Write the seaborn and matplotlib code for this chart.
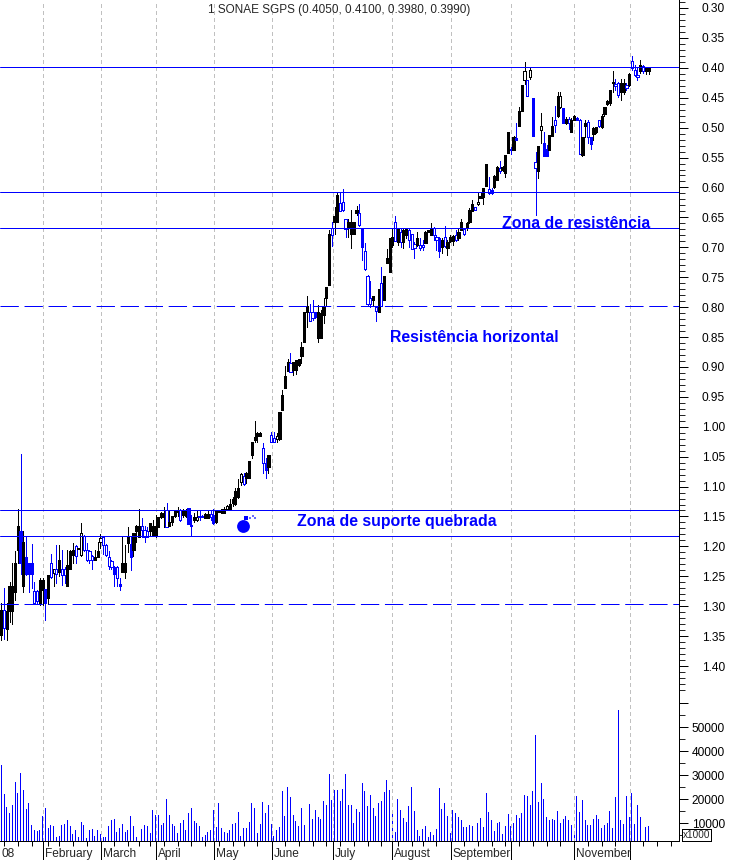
"""Daily candlestick chart for SONAE SGPS in 2008, inverted price scale, volume below."""
import pandas as pd
import seaborn as sns
import matplotlib
matplotlib.use('Agg')
import matplotlib.pyplot as plt

wick_low = [
    1.295, 1.270, 1.295, 1.260, 1.228, 1.207, 1.138, 1.045, 1.175, 1.183,
    1.228, 1.196, 1.259, 1.273, 1.253, 1.253, 1.272, 1.248, 1.213, 1.238,
    1.198, 1.198, 1.206, 1.235, 1.206, 1.206, 1.195, 1.198, 1.203, 1.161,
    1.181, 1.195, 1.206, 1.214, 1.206, 1.192, 1.179, 1.184, 1.196, 1.207,
    1.223, 1.233, 1.233, 1.253, 1.184, 1.198, 1.168, 1.184, 1.177, 1.164,
    1.138, 1.153, 1.166, 1.168, 1.161, 1.156, 1.147, 1.151, 1.142, 1.134,
    1.127, 1.139, 1.150, 1.139, 1.135, 1.138, 1.138, 1.138, 1.136, 1.147,
    1.145, 1.139, 1.139, 1.147, 1.144, 1.139, 1.139, 1.138, 1.139, 1.139,
    1.138, 1.135, 1.131, 1.120, 1.117, 1.103, 1.088, 1.078, 1.078, 1.075,
    1.057, 1.025, 0.991, 1.008, 1.008, 1.028, 1.053, 1.047, 1.008, 1.008,
    1.011, 0.975, 0.938, 0.899, 0.886, 0.877, 0.891, 0.888, 0.886, 0.858,
    0.808, 0.782, 0.794, 0.788, 0.808, 0.796, 0.805, 0.785, 0.767, 0.671,
    0.657, 0.632, 0.609, 0.609, 0.603, 0.653, 0.653, 0.638, 0.657, 0.631,
    0.628, 0.668, 0.693, 0.746, 0.757, 0.782, 0.799, 0.769, 0.733, 0.748,
    0.703, 0.685, 0.670, 0.648, 0.668, 0.670, 0.667, 0.668, 0.670, 0.677,
    0.692, 0.674, 0.685, 0.687, 0.672, 0.671, 0.660, 0.666, 0.679, 0.682,
    0.685, 0.664, 0.688, 0.679, 0.679, 0.671, 0.668, 0.652, 0.668, 0.657,
    0.635, 0.621, 0.632, 0.609, 0.610, 0.601, 0.561, 0.583, 0.601, 0.579,
    0.564, 0.555, 0.564, 0.546, 0.507, 0.532, 0.514, 0.493, 0.465, 0.429,
    0.390, 0.420, 0.401, 0.451, 0.540, 0.531, 0.476, 0.508, 0.529, 0.512,
    0.482, 0.464, 0.440, 0.440, 0.468, 0.483, 0.483, 0.484, 0.479, 0.483,
    0.486, 0.515, 0.488, 0.487, 0.515, 0.499, 0.499, 0.487, 0.477, 0.465,
    0.453, 0.437, 0.405, 0.418, 0.423, 0.419, 0.419, 0.425, 0.409, 0.381,
    0.395, 0.398, 0.387, 0.395, 0.398, 0.398,
]
wick_high = [
    1.356, 1.354, 1.357, 1.327, 1.329, 1.289, 1.228, 1.246, 1.277, 1.248,
    1.277, 1.270, 1.296, 1.296, 1.298, 1.298, 1.323, 1.296, 1.253, 1.267,
    1.262, 1.249, 1.264, 1.262, 1.267, 1.237, 1.228, 1.227, 1.204, 1.216,
    1.207, 1.224, 1.227, 1.237, 1.223, 1.218, 1.203, 1.213, 1.216, 1.237,
    1.238, 1.267, 1.267, 1.273, 1.242, 1.253, 1.209, 1.239, 1.216, 1.192,
    1.185, 1.184, 1.192, 1.185, 1.181, 1.183, 1.185, 1.167, 1.153, 1.167,
    1.167, 1.166, 1.164, 1.151, 1.150, 1.157, 1.151, 1.151, 1.163, 1.183,
    1.159, 1.157, 1.156, 1.151, 1.153, 1.153, 1.156, 1.163, 1.161, 1.142,
    1.145, 1.145, 1.139, 1.138, 1.132, 1.131, 1.119, 1.097, 1.097, 1.094,
    1.086, 1.053, 1.025, 1.025, 1.016, 1.077, 1.086, 1.077, 1.026, 1.026,
    1.025, 1.022, 0.972, 0.936, 0.906, 0.908, 0.913, 0.911, 0.899, 0.894,
    0.858, 0.833, 0.823, 0.821, 0.819, 0.858, 0.852, 0.827, 0.798, 0.763,
    0.698, 0.677, 0.657, 0.640, 0.639, 0.682, 0.682, 0.702, 0.677, 0.646,
    0.664, 0.722, 0.738, 0.796, 0.800, 0.798, 0.823, 0.808, 0.798, 0.788,
    0.727, 0.742, 0.699, 0.689, 0.696, 0.700, 0.702, 0.685, 0.699, 0.703,
    0.718, 0.698, 0.704, 0.704, 0.693, 0.674, 0.679, 0.687, 0.704, 0.717,
    0.710, 0.699, 0.713, 0.691, 0.696, 0.689, 0.687, 0.671, 0.679, 0.671,
    0.659, 0.640, 0.638, 0.629, 0.618, 0.628, 0.597, 0.611, 0.611, 0.601,
    0.587, 0.575, 0.573, 0.582, 0.543, 0.544, 0.538, 0.521, 0.497, 0.473,
    0.427, 0.447, 0.419, 0.514, 0.646, 0.585, 0.526, 0.547, 0.547, 0.538,
    0.514, 0.507, 0.483, 0.468, 0.493, 0.494, 0.503, 0.508, 0.487, 0.487,
    0.544, 0.547, 0.515, 0.526, 0.536, 0.521, 0.509, 0.499, 0.501, 0.481,
    0.462, 0.462, 0.440, 0.437, 0.449, 0.453, 0.443, 0.437, 0.430, 0.403,
    0.414, 0.421, 0.408, 0.409, 0.410, 0.410,
]
body_low = [
    1.306, 1.306, 1.308, 1.267, 1.267, 1.228, 1.166, 1.175, 1.192, 1.217,
    1.228, 1.228, 1.274, 1.274, 1.257, 1.257, 1.272, 1.248, 1.228, 1.238,
    1.238, 1.223, 1.238, 1.238, 1.231, 1.207, 1.206, 1.200, 1.203, 1.177,
    1.183, 1.206, 1.207, 1.216, 1.217, 1.207, 1.186, 1.185, 1.198, 1.217,
    1.224, 1.234, 1.234, 1.263, 1.228, 1.228, 1.183, 1.196, 1.177, 1.166,
    1.166, 1.166, 1.173, 1.175, 1.161, 1.166, 1.166, 1.151, 1.145, 1.145,
    1.139, 1.160, 1.150, 1.141, 1.139, 1.139, 1.139, 1.139, 1.136, 1.164,
    1.151, 1.151, 1.149, 1.149, 1.146, 1.146, 1.146, 1.147, 1.139, 1.139,
    1.138, 1.137, 1.132, 1.129, 1.120, 1.107, 1.103, 1.079, 1.082, 1.078,
    1.058, 1.025, 1.017, 1.011, 1.011, 1.036, 1.061, 1.047, 1.014, 1.019,
    1.016, 0.975, 0.947, 0.915, 0.891, 0.893, 0.891, 0.888, 0.887, 0.866,
    0.808, 0.798, 0.808, 0.808, 0.808, 0.808, 0.810, 0.798, 0.767, 0.677,
    0.668, 0.648, 0.613, 0.626, 0.624, 0.653, 0.657, 0.657, 0.657, 0.637,
    0.643, 0.668, 0.707, 0.748, 0.784, 0.782, 0.799, 0.769, 0.760, 0.748,
    0.718, 0.685, 0.682, 0.657, 0.670, 0.674, 0.671, 0.670, 0.671, 0.678,
    0.694, 0.685, 0.696, 0.696, 0.674, 0.671, 0.670, 0.667, 0.682, 0.685,
    0.688, 0.683, 0.691, 0.682, 0.681, 0.679, 0.674, 0.657, 0.670, 0.660,
    0.638, 0.627, 0.633, 0.624, 0.614, 0.601, 0.561, 0.603, 0.604, 0.581,
    0.565, 0.568, 0.566, 0.546, 0.508, 0.535, 0.515, 0.518, 0.472, 0.429,
    0.406, 0.420, 0.404, 0.451, 0.558, 0.531, 0.497, 0.525, 0.535, 0.512,
    0.497, 0.487, 0.447, 0.447, 0.468, 0.486, 0.486, 0.487, 0.481, 0.484,
    0.487, 0.515, 0.493, 0.490, 0.516, 0.501, 0.499, 0.488, 0.481, 0.466,
    0.455, 0.437, 0.423, 0.427, 0.426, 0.426, 0.426, 0.429, 0.410, 0.388,
    0.403, 0.412, 0.395, 0.397, 0.401, 0.399,
]
body_high = [
    1.348, 1.337, 1.338, 1.308, 1.308, 1.277, 1.206, 1.228, 1.267, 1.246,
    1.247, 1.247, 1.295, 1.292, 1.296, 1.273, 1.295, 1.287, 1.252, 1.244,
    1.246, 1.242, 1.248, 1.248, 1.267, 1.237, 1.214, 1.216, 1.204, 1.214,
    1.206, 1.223, 1.223, 1.223, 1.223, 1.217, 1.192, 1.198, 1.214, 1.233,
    1.234, 1.246, 1.253, 1.267, 1.242, 1.242, 1.195, 1.217, 1.206, 1.175,
    1.184, 1.173, 1.184, 1.184, 1.175, 1.183, 1.183, 1.167, 1.151, 1.151,
    1.167, 1.166, 1.159, 1.150, 1.142, 1.156, 1.147, 1.150, 1.163, 1.166,
    1.156, 1.156, 1.151, 1.151, 1.153, 1.153, 1.151, 1.161, 1.160, 1.142,
    1.145, 1.144, 1.138, 1.137, 1.127, 1.129, 1.117, 1.092, 1.096, 1.086,
    1.086, 1.047, 1.022, 1.015, 1.015, 1.061, 1.072, 1.067, 1.026, 1.026,
    1.021, 1.021, 0.972, 0.936, 0.906, 0.908, 0.905, 0.905, 0.897, 0.882,
    0.858, 0.808, 0.823, 0.819, 0.816, 0.852, 0.852, 0.813, 0.784, 0.763,
    0.679, 0.657, 0.657, 0.639, 0.637, 0.670, 0.667, 0.677, 0.677, 0.643,
    0.663, 0.700, 0.737, 0.794, 0.794, 0.788, 0.806, 0.808, 0.798, 0.788,
    0.727, 0.742, 0.696, 0.689, 0.692, 0.691, 0.692, 0.679, 0.688, 0.703,
    0.702, 0.696, 0.702, 0.700, 0.693, 0.674, 0.679, 0.679, 0.687, 0.707,
    0.699, 0.698, 0.702, 0.689, 0.689, 0.688, 0.685, 0.671, 0.678, 0.668,
    0.657, 0.639, 0.637, 0.628, 0.618, 0.616, 0.597, 0.609, 0.609, 0.600,
    0.587, 0.573, 0.571, 0.575, 0.543, 0.538, 0.538, 0.520, 0.497, 0.473,
    0.420, 0.447, 0.416, 0.514, 0.568, 0.572, 0.504, 0.547, 0.547, 0.538,
    0.514, 0.496, 0.481, 0.465, 0.493, 0.493, 0.493, 0.508, 0.487, 0.487,
    0.544, 0.546, 0.497, 0.515, 0.527, 0.511, 0.508, 0.497, 0.499, 0.477,
    0.460, 0.459, 0.425, 0.431, 0.445, 0.440, 0.440, 0.433, 0.429, 0.401,
    0.412, 0.416, 0.406, 0.406, 0.405, 0.405,
]
# K/k black filled/hollow, B/b blue filled/hollow
candle_style = (
    "KbKKKKKBKB" "BBbbKKBKbk" "bKbbKKKbKk" "bbbbKKkbbb" "bBbBKKKBKK" "KbbbKKKKKK"
    "bKKKKbKKBb" "KkbBKKbBKK" "KKkKKKKkbK" "KKKKKbBKbb" "kKKKKbKKKK" "KKbbBKKKKK"
    "bKKbbbKKKK" "bBbbbKbKbK" "KKKbKbKKbb" "bKbbKKKbbB" "KbKKKbKKbK" "KKbkKKKbBK"
    "KbKKKbKBKK" "kbkBbKkBBK" "KbKkBKbKKB" "bKKbBKKbKK" "KKKbbKKbKb" "bbKbKK"
)
volume_k = [
    34.2, 22.1, 16.7, 14.2, 17.5, 27.1, 22.5, 30.8, 23.7, 15.8, 18.3, 9.2, 7.1, 6.7, 7.1,
    12.9, 16.3, 7.9, 9.2, 8.7, 4.2, 4.6, 9.2, 9.6, 11.2, 8.7, 5.4, 7.1, 4.2, 10.4, 9.2, 3.7, 7.1, 7.5, 4.6, 7.1,
    5.4, 4.2, 4.2, 8.7, 11.2, 11.7, 6.3, 7.9, 9.6, 6.3, 7.1, 12.9, 8.7, 4.2, 27.9, 7.5, 9.2, 8.7, 5.8,
    15.4, 13.3, 13.3, 9.2, 10.0, 20.0, 13.3, 9.6, 8.7, 5.8, 10.0, 11.2, 7.1, 14.2, 16.3, 10.8, 10.0, 8.7, 4.2, 5.0, 6.3, 7.1,
    15.4, 8.3, 18.3, 7.9, 6.3, 5.8, 7.1, 9.6, 10.0, 14.6, 4.6, 7.9, 7.9, 10.4, 18.3, 16.3, 5.8, 9.6, 18.7, 14.2, 17.5,
    9.6, 4.6, 7.1, 8.3, 23.3, 12.9, 25.0, 20.8, 13.3, 10.8, 8.7, 16.3, 9.2, 26.7, 17.9, 11.7, 15.4, 12.5, 11.7, 19.2, 17.5, 30.4, 19.6, 23.7, 23.7, 19.2, 24.2, 30.4, 17.5, 17.5, 10.0, 15.8, 14.6, 26.7, 23.3,
    17.1, 21.7, 16.3, 12.9, 18.3, 19.2, 22.9, 27.9, 23.7, 13.7, 6.3, 20.0, 15.4, 12.1, 10.4, 17.1, 25.0, 15.0, 7.1, 4.6, 7.5, 8.7, 4.2, 6.3, 5.0, 7.5, 24.6, 15.8, 18.3, 12.9, 6.1,
    15.4, 14.2, 12.5, 11.2, 8.3, 8.3, 9.2, 8.7, 5.8, 10.0, 12.1, 8.3, 22.5, 14.6, 11.2, 6.7, 10.0, 10.4, 5.4, 8.7, 13.7, 8.7, 10.0,
    13.3, 12.1, 14.2, 21.7, 21.2, 17.5, 23.3, 46.7, 18.7, 26.7, 20.0, 12.5, 11.2, 11.7, 11.2, 15.0, 10.0, 11.7, 12.9, 11.2, 9.2, 5.0,
    21.2, 14.6, 19.6, 11.2, 9.2, 9.2, 11.7, 13.3, 11.7, 7.9, 9.2, 10.0, 15.0, 7.9, 20.8, 57.1, 11.2, 9.6, 21.2, 12.5, 22.5, 9.6, 17.5, 12.5, 9.6, 8.3, 8.7,
]
solid_levels = [0.3985, 0.6076, 0.668, 1.140, 1.183]
dashed_levels = [0.798, 1.2955]
month_ticks = [15.3, 36.1, 56.1, 77.2, 98.3, 120.4, 141.9, 163.3, 185.2, 208.1, 228.4]
month_labels = ['February', 'March', 'April', 'May', 'June', 'July', 'August', 'September', '', 'November', '']
week_ticks = [1, 6, 11, 17, 21, 26, 31, 41, 46, 50, 54, 59, 64, 69, 74, 79, 84, 88, 93, 103, 108, 113, 118,
              123, 128, 133, 138, 144, 149, 153, 158, 168, 173, 178, 183, 188, 193, 198, 203, 213, 218, 223,
              233, 238, 243]
price_major = [0.30, 0.35, 0.40, 0.45, 0.50, 0.55, 0.60, 0.65, 0.70, 0.75, 0.80, 0.85, 0.90, 0.95,
               1.00, 1.05, 1.10, 1.15, 1.20, 1.25, 1.30, 1.35, 1.40]
price_minor = [round(0.29 + 0.01 * k, 2) for k in range(116)]
volume_major = [10000, 20000, 30000, 40000, 50000, 60000]
volume_labels = ['10000', '20000', '30000', '40000', '50000', '']
volume_minor = [5000, 15000, 25000, 35000, 45000, 55000]
notes = [('Zona de resistência', 181.7, 0.661), ('Resistência horizontal', 141.3, 0.85),
         ('Zona de suporte quebrada', 107.5, 1.1576)]
title = '1 SONAE SGPS (0.4050, 0.4100, 0.3980, 0.3990)'

assert len(wick_low) == len(wick_high) == len(body_low) == len(body_high) == len(candle_style) == len(volume_k)

BLUE = '#0000ff'
GREY = '#c0c0c0'
PX = 0.72  # one pixel in points at dpi 100

sns.set_style('white')
plt.rcParams['font.family'] = ['Liberation Sans', 'DejaVu Sans']
plt.rcParams['lines.scale_dashes'] = False
plt.rcParams['lines.antialiased'] = False
plt.rcParams['patch.antialiased'] = False

fig = plt.figure(figsize=(7.29, 8.60), dpi=100)
ax_price = fig.add_axes([0, 160 / 860, 679 / 729, 700 / 860])
ax_vol = fig.add_axes([0, 19 / 860, 679 / 729, 141 / 860])

days = list(range(len(volume_k)))
df = pd.DataFrame({'day': days, 'volume': [v * 1000 for v in volume_k]})

# candles
for day, style, lo, hi, top, bottom in zip(days, candle_style, wick_low, wick_high, body_low, body_high):
    colour = 'black' if style in 'Kk' else BLUE
    ax_price.vlines(day, lo, hi, color=colour, lw=PX, zorder=3)
    face = colour if style in 'KB' else 'white'
    ax_price.bar(day, bottom - top, bottom=top, width=0.8, facecolor=face, edgecolor=colour, linewidth=PX, zorder=4)

for level in solid_levels:
    ax_price.axhline(level, color=BLUE, lw=PX, antialiased=True, zorder=5)
for level in dashed_levels:
    ax_price.axhline(level, color=BLUE, lw=PX, antialiased=True, linestyle=(0, (13.2, 4.1)), zorder=5)

# bomb mark on the support break
ax_price.scatter([87.9], [1.166], s=85, color=BLUE, linewidths=0, zorder=6)
ax_price.scatter([88.9], [1.152], s=10, marker='s', color=BLUE, linewidths=0, zorder=6)
ax_price.scatter([90.2, 91.3, 92.2], [1.152, 1.149, 1.153], s=1.5, marker='s', color='#6a6aff', linewidths=0, zorder=6)

for text, x, y in notes:
    ax_price.text(x, y, text, color=BLUE, fontsize=11.4, fontweight='bold', va='center', ha='left', zorder=7)

ax_price.set_ylim(0.3 + 692 / 598.2, 0.3 - 8 / 598.2)
ax_price.set_yticks(price_major)
ax_price.set_yticklabels(['%.2f' % p for p in price_major])
ax_price.set_yticks(price_minor, minor=True)

sns.barplot(data=df, x='day', y='volume', native_scale=True, color=BLUE, saturation=1,
            width=0.36, linewidth=0, ax=ax_vol)
for bar in ax_vol.patches:
    bar.set_antialiased(False)
ax_vol.set_xlabel('')
ax_vol.set_ylabel('')
ax_vol.set_ylim(2625, 61375)
ax_vol.set_yticks(volume_major)
ax_vol.set_yticklabels(volume_labels)
ax_vol.set_yticks(volume_minor, minor=True)

for ax in [ax_price, ax_vol]:
    ax.set_xlim(-0.47, 246.07)
    ax.patch.set_alpha(0)
    for t in month_ticks:
        ax.axvline(t, color=GREY, lw=PX, linestyle=(0, (2.2, 2.2)), zorder=1)
    ax.yaxis.tick_right()
    ax.tick_params(axis='y', which='major', length=6.5, width=PX, pad=26.5, labelsize=8.6, colors='black', right=True)
    ax.tick_params(axis='y', which='minor', length=4.5, width=PX, right=True, left=False)
    for lab in ax.get_yticklabels():
        lab.set_ha('right')
    for side in ['top', 'left', 'bottom']:
        ax.spines[side].set_visible(False)
    ax.spines['right'].set_visible(True)
    ax.spines['right'].set_linewidth(PX)
    ax.spines['right'].set_color('black')

ax_price.set_xticks([])
ax_vol.spines['bottom'].set_visible(True)
ax_vol.spines['bottom'].set_linewidth(PX)
ax_vol.spines['bottom'].set_color('black')
ax_vol.set_xticks(month_ticks)
ax_vol.set_xticklabels([])
ax_vol.set_xticks(week_ticks, minor=True)
ax_vol.tick_params(axis='x', which='major', length=13.7, width=PX, bottom=True, color='black')
ax_vol.tick_params(axis='x', which='minor', length=3.6, width=PX, bottom=True, color='black')

ax_vol.annotate('08', xy=(-0.47, 0), xycoords=('data', 'axes fraction'), xytext=(1, -9.2),
                textcoords='offset points', fontsize=8.6, va='center', annotation_clip=False)
for t, label in zip(month_ticks, month_labels):
    ax_vol.annotate(label, xy=(t, 0), xycoords=('data', 'axes fraction'), xytext=(1.4, -9.2),
                    textcoords='offset points', fontsize=8.6, va='center', annotation_clip=False)

fig.text(339.5 / 729, 1 - 10 / 860, title, ha='center', va='center', fontsize=8.5)
fig.text(696.5 / 729, 1 - 835 / 860, 'x1000', ha='center', va='center', fontsize=7.2, zorder=10,
         bbox=dict(boxstyle='square,pad=0.12', fc='white', ec='black', lw=PX))

fig.savefig('out.png', dpi=100)
